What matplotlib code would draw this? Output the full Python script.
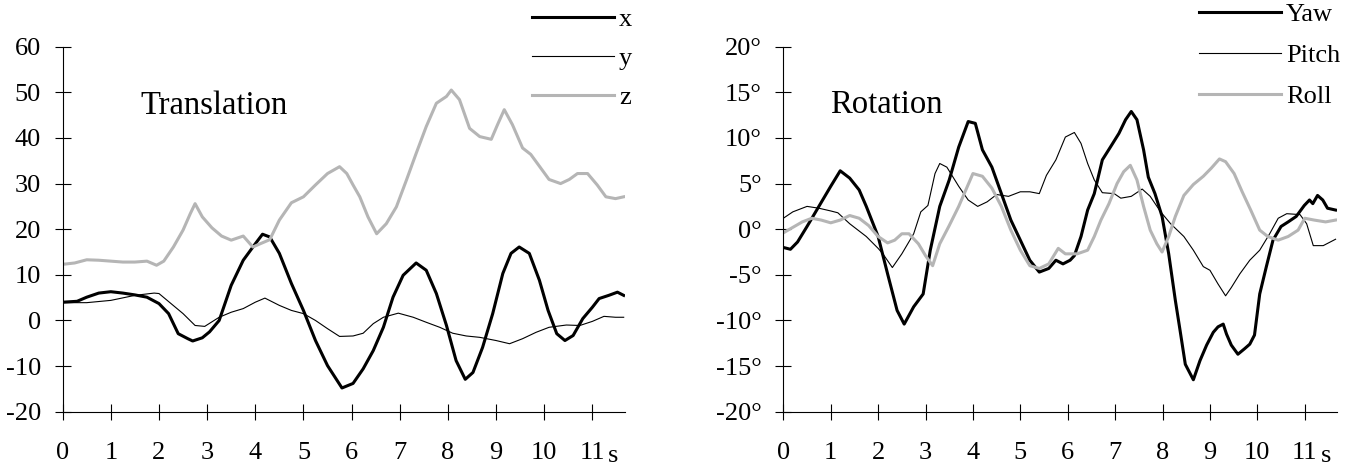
import matplotlib
matplotlib.use("Agg")
import matplotlib.pyplot as plt

# 1. Data (time in s)
ticks_s = [0, 1, 2, 3, 4, 5, 6, 7, 8, 9, 10, 11]

trans_yticks = [60, 50, 40, 30, 20, 10, 0, -10, -20]
trans_ylabels = ["60", "50", "40", "30", "20", "10", "0", "-10", "-20"]

x_t = [0, 0.3, 0.5, 0.75, 1.0, 1.25, 1.5, 1.75, 2.0, 2.2, 2.4, 2.6, 2.7, 2.9, 3.05,
       3.25, 3.5, 3.75, 4.0, 4.15, 4.3, 4.5, 4.75, 5.0, 5.25, 5.5, 5.8, 6.03, 6.24,
       6.45, 6.66, 6.86, 7.07, 7.34, 7.55, 7.76, 7.97, 8.17, 8.36, 8.52, 8.72, 8.93,
       9.14, 9.31, 9.48, 9.69, 9.9, 10.08, 10.26, 10.43, 10.6, 10.8, 11.0, 11.14,
       11.34, 11.52, 11.65]
x_v = [4.0, 4.2, 5.1, 6.0, 6.3, 6.0, 5.6, 5.1, 3.7, 1.5, -2.9, -4.0, -4.5, -3.8, -2.5,
       0.0, 7.7, 13.2, 16.8, 18.9, 18.3, 14.7, 8.1, 2.2, -4.4, -9.9, -14.8, -13.8, -10.6,
       -6.6, -1.5, 5.1, 9.9, 12.6, 11.0, 5.9, -1.1, -8.8, -12.9, -11.4, -5.9, 1.5,
       10.3, 14.7, 16.1, 14.7, 8.8, 2.2, -2.9, -4.4, -3.3, 0.4, 2.9, 4.8,
       5.5, 6.2, 5.5]

y_t = [0, 0.5, 1.0, 1.5, 1.9, 2.0, 2.25, 2.5, 2.75, 2.95, 3.25, 3.5, 3.75, 4.0, 4.2,
       4.5, 4.75, 5.0, 5.25, 5.5, 5.75, 6.03, 6.24, 6.45, 6.66, 6.97, 7.28, 7.55,
       7.83, 8.1, 8.38, 8.66, 9.0, 9.28, 9.55, 9.83, 10.1, 10.46, 10.74, 11.0, 11.24,
       11.48, 11.65]
y_v = [3.9, 3.9, 4.4, 5.5, 6.0, 5.9, 3.7, 1.5, -1.1, -1.3, 0.7, 1.8, 2.6, 4.0, 4.9,
       3.3, 2.2, 1.5, 0.0, -1.8, -3.5, -3.4, -2.8, -0.7, 0.7, 1.6, 0.7, -0.4,
       -1.5, -2.8, -3.4, -3.7, -4.4, -5.1, -4.0, -2.6, -1.5, -1.0, -1.1, -0.2, 0.9,
       0.7, 0.7]

z_t = [0, 0.25, 0.5, 0.75, 1.0, 1.25, 1.5, 1.75, 1.95, 2.1, 2.3, 2.5, 2.65, 2.75, 2.9,
       3.1, 3.3, 3.5, 3.75, 3.95, 4.1, 4.3, 4.5, 4.75, 5.0, 5.25, 5.5, 5.75, 5.9,
       6.03, 6.17, 6.34, 6.52, 6.72, 6.93, 7.14, 7.34, 7.55, 7.76, 7.97, 8.07, 8.24,
       8.45, 8.66, 8.9, 9.03, 9.17, 9.34, 9.55, 9.72, 9.9, 10.1, 10.34, 10.52, 10.69,
       10.9, 11.1, 11.28, 11.48, 11.65]
z_v = [12.3, 12.6, 13.3, 13.2, 13.0, 12.8, 12.8, 13.0, 12.1, 13.0, 16.1, 19.8, 23.4, 25.6, 22.7,
       20.3, 18.5, 17.6, 18.5, 16.1, 16.8, 17.7, 22.0, 25.8, 27.1, 29.7, 32.2, 33.7, 32.2,
       29.7, 27.1, 22.7, 19.0, 21.2, 24.9, 30.8, 36.6, 42.5, 47.6, 49.1, 50.5, 48.4,
       42.1, 40.3, 39.7, 42.9, 46.2, 42.9, 37.8, 36.4, 33.8, 30.9, 30.0, 30.9, 32.2,
       32.2, 29.7, 27.1, 26.7, 27.1]

rot_yticks = [20, 15, 10, 5, 0, -5, -10, -15, -20]
rot_ylabels = ["20°", "15°", "10°", "5°", "0°", "-5°", "-10°", "-15°", "-20°"]

yaw_t = [0, 0.15, 0.3, 0.5, 0.75, 1.0, 1.2, 1.4, 1.6, 1.75, 2.0, 2.2, 2.4, 2.55, 2.75,
         2.95, 3.1, 3.3, 3.5, 3.7, 3.9, 4.05, 4.2, 4.4, 4.6, 4.8, 5.0, 5.2, 5.4, 5.6,
         5.75, 5.9, 6.05, 6.14, 6.28, 6.42, 6.56, 6.73, 6.9, 7.08, 7.22, 7.34, 7.46,
         7.6, 7.7, 7.84, 7.99, 8.13, 8.27, 8.37, 8.48, 8.65, 8.79, 8.93, 9.07, 9.17,
         9.28, 9.35, 9.45, 9.59, 9.73, 9.84, 9.94, 10.05, 10.19, 10.33, 10.5, 10.65,
         10.82, 10.99, 11.1, 11.17, 11.27, 11.38, 11.48, 11.65]
yaw_v = [-2.0, -2.2, -1.4, 0.3, 2.5, 4.7, 6.4, 5.6, 4.3, 2.5, -0.8, -4.9, -8.9, -10.4, -8.5,
         -7.1, -2.3, 2.5, 5.4, 9.0, 11.8, 11.6, 8.7, 6.8, 3.9, 1.0, -1.2, -3.4, -4.7, -4.3,
         -3.4, -3.8, -3.4, -2.9, -0.8, 2.1, 3.9, 7.6, 9.0, 10.5, 12.0, 12.9, 12.0,
         8.7, 5.7, 3.9, 1.4, -2.7, -7.8, -11.1, -14.8, -16.5, -14.4, -12.7, -11.3, -10.7,
         -10.4, -11.5, -12.7, -13.7, -13.1, -12.6, -11.6, -7.1, -4.1, -1.2, 0.3, 0.8,
         1.4, 2.6, 3.2, 2.8, 3.7, 3.2, 2.3, 2.1]

pitch_t = [0, 0.2, 0.5, 0.75, 1.0, 1.15, 1.4, 1.75, 2.0, 2.1, 2.3, 2.5, 2.75, 2.9, 3.05,
           3.2, 3.3, 3.45, 3.7, 3.9, 4.1, 4.3, 4.5, 4.75, 5.0, 5.2, 5.4, 5.55, 5.75,
           5.95, 6.14, 6.28, 6.42, 6.56, 6.73, 6.98, 7.12, 7.34, 7.57, 7.74, 7.96, 8.17,
           8.45, 8.65, 8.86, 9.0, 9.17, 9.33, 9.45, 9.63, 9.84, 10.05, 10.26, 10.44,
           10.62, 10.9, 11.04, 11.18, 11.39, 11.65]
pitch_v = [1.2, 1.9, 2.5, 2.3, 2.0, 1.8, 0.6, -0.8, -2.1, -2.7, -4.2, -2.7, -0.5, 1.9, 2.6,
           6.1, 7.2, 6.8, 4.7, 3.2, 2.5, 3.0, 3.8, 3.6, 4.1, 4.1, 3.9, 5.9, 7.6,
           10.1, 10.6, 9.4, 7.2, 5.4, 4.0, 3.9, 3.4, 3.6, 4.4, 3.6, 1.9, 0.6,
           -0.8, -2.3, -4.1, -4.5, -6.0, -7.3, -6.4, -4.9, -3.4, -2.3, -0.5, 1.2,
           1.7, 1.6, 0.6, -1.8, -1.8, -1.1]

roll_t = [0, 0.2, 0.4, 0.6, 0.8, 1.0, 1.2, 1.4, 1.6, 1.8, 2.0, 2.2, 2.35, 2.5, 2.65,
          2.85, 3.0, 3.15, 3.3, 3.5, 3.7, 3.85, 4.0, 4.2, 4.4, 4.6, 4.8, 5.0, 5.2, 5.4,
          5.6, 5.8, 5.95, 6.2, 6.42, 6.56, 6.7, 6.87, 7.04, 7.18, 7.32, 7.46, 7.6, 7.74,
          7.88, 7.99, 8.13, 8.27, 8.45, 8.65, 8.86, 9.03, 9.2, 9.33, 9.51, 9.68, 9.86,
          10.05, 10.22, 10.44, 10.65, 10.86, 11.0, 11.2, 11.44, 11.65]
roll_v = [-0.4, 0.2, 0.8, 1.2, 1.0, 0.7, 1.0, 1.5, 1.2, 0.4, -0.8, -1.5, -1.2, -0.5, -0.5,
          -1.6, -2.9, -4.0, -1.6, 0.4, 2.5, 4.3, 6.1, 5.8, 4.5, 2.5, -0.1, -2.3, -4.0, -4.3,
          -3.8, -2.1, -2.7, -2.7, -2.3, -0.8, 1.0, 2.8, 5.0, 6.3, 7.0, 5.4, 2.5, -0.1,
          -1.6, -2.5, -0.8, 1.4, 3.7, 4.9, 5.8, 6.7, 7.7, 7.4, 6.1, 4.1, 2.1,
          -0.1, -0.8, -1.2, -0.8, -0.1, 1.2, 1.0, 0.8, 1.0]

# 2. Style
plt.rcParams["font.family"] = ["Liberation Serif", "DejaVu Serif"]
GRAY = "#b5b5b5"
FS = 19

fig = plt.figure(figsize=(13.59, 4.66), dpi=100)
ax1 = fig.add_axes([0.0461, 0.1165, 0.4139, 0.7833])
ax2 = fig.add_axes([0.5764, 0.1165, 0.4074, 0.7833])


def style_axis(ax, yticks, ylabels, ylim):
    for side in ["top", "right"]:
        ax.spines[side].set_visible(False)
    for side in ["left", "bottom"]:
        ax.spines[side].set_linewidth(0.8)
    ax.set_xlim(0, 11.68)
    ax.set_ylim(*ylim)
    ax.set_xticks(ticks_s)
    ax.set_xticklabels([str(t) for t in ticks_s])
    ax.set_yticks(yticks)
    ax.set_yticklabels(ylabels)
    ax.tick_params(axis="both", direction="inout", length=11, width=0.8, labelsize=FS)
    ax.tick_params(axis="y", pad=10)
    ax.tick_params(axis="x", pad=16)
    ax.text(11.33, -0.137, "s", transform=ax.get_xaxis_transform(),
            fontsize=FS, ha="left", va="baseline")


def add_legend(ax, anchor, spacing):
    ax.legend(loc="upper left", bbox_to_anchor=anchor, frameon=False,
              fontsize=FS, handlelength=3.1, handletextpad=0.2, labelspacing=spacing,
              borderpad=0, borderaxespad=0)


# 3. Translation
ax1.plot(x_t, x_v, color="black", lw=2.2, label="x")
ax1.plot(y_t, y_v, color="black", lw=0.8, label="y")
ax1.plot(z_t, z_v, color=GRAY, lw=2.2, label="z")
style_axis(ax1, trans_yticks, trans_ylabels, (-20, 60))
ax1.text(1.62, 45.2, "Translation", fontsize=23.5, ha="left", va="baseline")
add_legend(ax1, (0.834, 1.106), 0.585)

# 4. Rotation
ax2.plot(yaw_t, yaw_v, color="black", lw=2.2, label="Yaw")
ax2.plot(pitch_t, pitch_v, color="black", lw=0.8, label="Pitch")
ax2.plot(roll_t, roll_v, color=GRAY, lw=2.2, label="Roll")
style_axis(ax2, rot_yticks, rot_ylabels, (-20, 20))
ax2.text(0.99, 12.7, "Rotation", fontsize=23.5, ha="left", va="baseline")
add_legend(ax2, (0.751, 1.121), 0.665)

fig.savefig("out.png", dpi=100)
